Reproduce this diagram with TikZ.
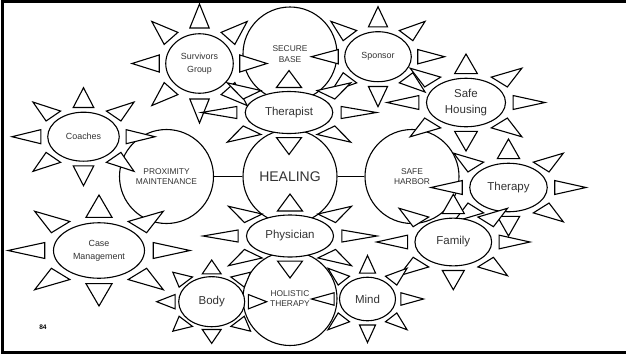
\documentclass[tikz,border=0pt]{standalone}
\usepackage{fontspec}
\setmainfont{Liberation Sans}
\usetikzlibrary{shapes.geometric}
\definecolor{TextClr}{rgb}{0.2,0.2,0.2}

% sun: [adj]{name}{x}{y}{half width}{half height}{text style}{text}
\newcommand{\sunshape}[8][0.25]{%
  \pgfmathsetmacro\sunG{0.5-#1}%
  \pgfmathsetmacro\sunD{0.25+1.38582*\sunG}%
  \pgfmathsetmacro\sunB{0.57402*\sunG}%
  \pgfmathsetmacro\sunW{2*(1-2*#1)*#5}%
  \pgfmathsetmacro\sunH{2*(1-2*#1)*#6}%
  \begin{scope}[shift={(#3,#4)},xscale=#5,yscale=#6]
    \foreach \ang in {0,45,...,315}
      \draw[sunray,rotate=\ang] (1,0) -- (\sunD,\sunB) -- (\sunD,-\sunB) -- cycle;
  \end{scope}
  \node[sunbody,#7,minimum width=\sunW pt,minimum height=\sunH pt] (#2) at (#3,#4) {#8};
}

\begin{document}
\begin{tikzpicture}[x=1pt,y=-1pt,
  sunray/.style={draw,fill=white,line width=1.1pt},
  sunbody/.style={ellipse,draw,fill=white,line width=1.1pt,inner sep=0pt,align=center,text=TextClr},
  bigcircle/.style={circle,draw,fill=white,line width=1.1pt,minimum size=94pt,inner sep=0pt,
    align=center,text=TextClr,font=\fontsize{8.4}{10.4}\selectfont},
  smalltext/.style={font=\fontsize{8.9}{13.3}\selectfont},
  midtext/.style={font=\fontsize{11.5}{15.7}\selectfont}]
\useasboundingbox (0,0) rectangle (626,354);
\draw[line width=3pt] (626,1.5) -- (2.5,1.5) -- (2.5,352.5) -- (626,352.5);

\node[bigcircle] (secure) at (290,54) {SECURE\\BASE};
\node[bigcircle] (prox) at (166.5,176.5) {PROXIMITY\\MAINTENANCE};
\node[bigcircle,font=\fontsize{14}{16}\selectfont] (heal) at (290,176.5) {HEALING};
\node[bigcircle] (harbor) at (412,176.5) {SAFE\\HARBOR};
\node[bigcircle] (holistic) at (290,298.5) {HOLISTIC\\THERAPY};
\draw[line width=1.1pt] (prox) -- (heal);
\draw[line width=1.1pt] (heal) -- (harbor);

\sunshape{survivors}{199.5}{63.5}{67.5}{59.5}{smalltext}{Survivors\\Group}
\sunshape{sponsor}{378}{56.7}{66.6}{50}{smalltext}{Sponsor}
\sunshape{coaches}{83.5}{136.7}{71.5}{49}{smalltext}{Coaches}
\sunshape{casemgmt}{99}{250.5}{91}{55.5}{smalltext}{Case\\Management}
\sunshape{housing}{466}{102.5}{79}{48.5}{midtext}{Safe\\Housing}
\sunshape{therapy}{508.5}{187.5}{77.5}{48.5}{midtext}{Therapy}
\sunshape{family}{453.3}{242}{76.7}{47.7}{midtext}{Family}
\sunshape{therapist}{289}{112.5}{87.5}{42}{midtext}{Therapist}
\sunshape{physician}{290}{236}{87}{42}{midtext}{Physician}
\sunshape[0.2]{body}{211.7}{301.7}{55}{41.7}{midtext}{Body}
\sunshape{mind}{367.5}{299}{56}{43.5}{midtext}{Mind}

\node[font=\bfseries\fontsize{6.6}{8}\selectfont] (pagenum) at (43,327.5) {84};
\end{tikzpicture}
\end{document}
